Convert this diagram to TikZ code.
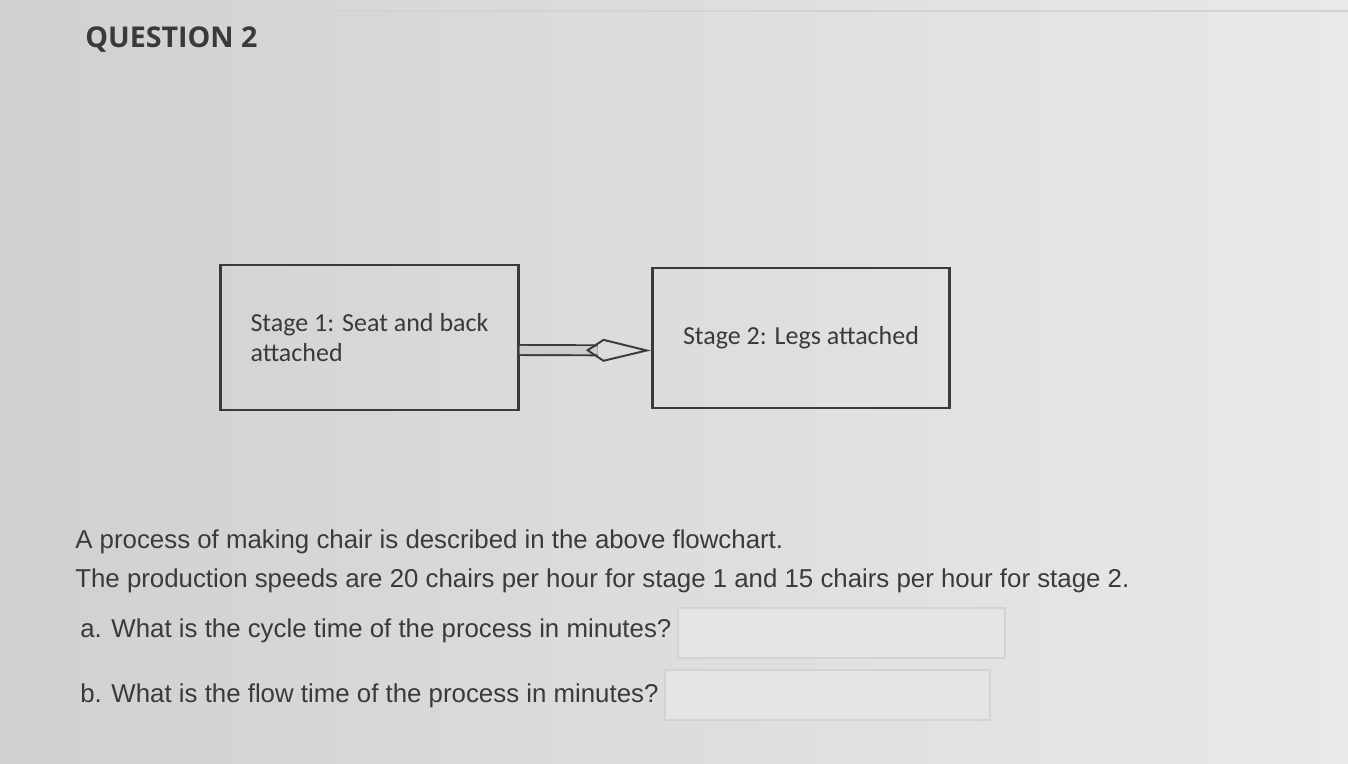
\documentclass[tikz,border=0pt]{standalone}
\usepackage{fontspec}
\setmainfont{Liberation Sans}
\newfontfamily\boxfont{Carlito}
\newfontfamily\headfont{Open Sans}
\usetikzlibrary{arrows.meta}
\definecolor{screen}{RGB}{220,222,221}
\definecolor{screenl}{RGB}{206,209,208}
\definecolor{screenr}{RGB}{232,234,233}
\definecolor{ink}{RGB}{58,58,60}
\definecolor{fieldline}{RGB}{210,212,211}

\begin{document}
\begin{tikzpicture}[
    stagebox/.style={rectangle, draw=ink, line width=1.6pt, minimum width=5.95cm, font=\boxfont\fontsize{14.8}{17}\selectfont, text=ink},
    stagearrow/.style={draw=ink, line width=1.1pt, double=gray!40, double distance=4.6pt, -{Kite[open, length=1.3cm, width=0.46cm, inset=0.35cm]}},
    qline/.style={anchor=base west, inner sep=0pt, text=ink, font=\fontsize{14.7}{17}\selectfont},
    answerfield/.style={rectangle, draw=fieldline, line width=0.6pt, fill=screen!80!white, minimum width=6.5cm, minimum height=1cm}
  ]
  \useasboundingbox (0,0) rectangle (26.96,-15.26);
  \shade[left color=screenl, right color=screenr, middle color=screen] (0,0) rectangle (26.96,-15.26);
  \draw[fieldline, line width=0.8pt] (0,-0.22) -- (26.96,-0.22);

  \node[anchor=base west, inner sep=0pt, text=ink, font=\headfont\bfseries\fontsize{16.3}{20}\selectfont] (title) at (1.7,-0.94) {QUESTION 2};

  \node[stagebox, minimum height=2.9cm, align=left] (s1) at (7.39,-6.75) {Stage 1: Seat and back\\attached};
  \node[stagebox, minimum height=2.8cm] (s2) at (16.02,-6.76) {Stage 2: Legs attached};
  \draw[stagearrow] ([yshift=-0.25cm]s1.east) -- ([yshift=-0.25cm]s2.west);

  \node[qline] (intro) at (1.5,-10.96) {A process of making chair is described in the above flowchart.};
  \node[qline] (speeds) at (1.5,-11.74) {The production speeds are 20 chairs per hour for stage 1 and 15 chairs per hour for stage 2.};
  \node[qline] (qa) at (1.6,-12.74) {a. What is the cycle time of the process in minutes?};
  \node[qline] (qb) at (1.6,-14.04) {b. What is the flow time of the process in minutes?};

  \node[answerfield, minimum width=6.54cm] (ansa) at (16.83,-12.66) {};
  \node[answerfield] (ansb) at (16.55,-13.9) {};
\end{tikzpicture}
\end{document}
